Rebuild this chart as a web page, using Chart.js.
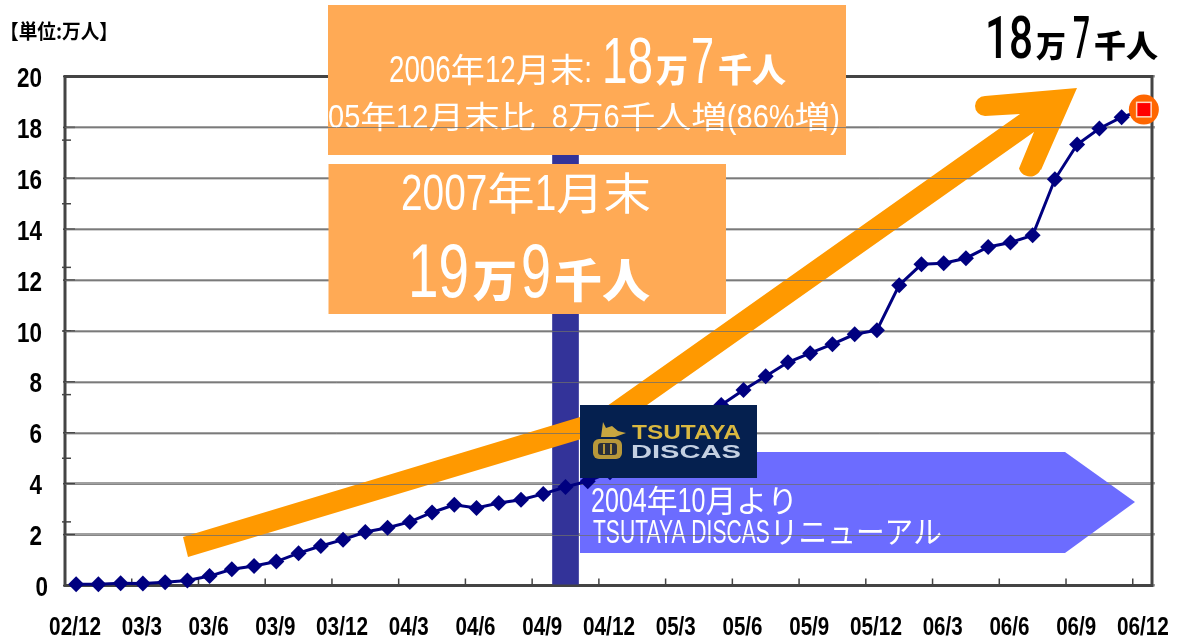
<!DOCTYPE html>
<html><head><meta charset="utf-8">
<style>html,body{margin:0;padding:0;background:#fff}#w{width:1177px;height:638px;position:relative}</style>
<script src="https://cdn.jsdelivr.net/npm/chart.js@4"></script>
</head><body><div id="w"><canvas id="c" width="1177" height="638"></canvas></div>
<script>
const categories=["02/12","03/1","03/2","03/3","03/4","03/5","03/6","03/7","03/8","03/9","03/10","03/11","03/12","04/1","04/2","04/3","04/4","04/5","04/6","04/7","04/8","04/9","04/10","04/11","04/12","05/1","05/2","05/3","05/4","05/5","05/6","05/7","05/8","05/9","05/10","05/11","05/12","06/1","06/2","06/3","06/4","06/5","06/6","06/7","06/8","06/9","06/10","06/11","06/12"];
const shownLabels=["02/12","03/3","03/6","03/9","03/12","04/3","04/6","04/9","04/12","05/3","05/6","05/9","05/12","06/3","06/6","06/9","06/12"];
const members=[0.05,0.05,0.09,0.08,0.13,0.2,0.37,0.64,0.77,0.94,1.27,1.55,1.8,2.1,2.27,2.5,2.87,3.17,3.05,3.24,3.37,3.6,3.87,4.1,4.45,4.85,5.3,5.8,6.45,7.09,7.68,8.22,8.77,9.13,9.48,9.87,10.03,11.8,12.62,12.66,12.86,13.3,13.48,13.76,15.96,17.33,17.96,18.4,18.7];
const bandCategory="04/10";
const bandValue=20;
const bandValues=categories.map(c=>c===bandCategory?bandValue:null);
const yMajor=[0,2,4,6,8,10,12,14,16,18,20];
const yMinor=[2.5,5,7.5,10,12.5,15,17.5];

const LAT='"Liberation Sans"';
const CJK='"Noto Sans CJK JP"';
function fit(ctx,text,font,x0,x1,base,color){
  ctx.save();ctx.font=font;ctx.fillStyle=color;ctx.textAlign='left';ctx.textBaseline='alphabetic';
  const w=ctx.measureText(text).width;
  ctx.translate(x0,base);ctx.scale((x1-x0)/w,1);ctx.fillText(text,0,0);ctx.restore();
}
// mixed line: Latin runs are condensed, CJK runs keep their proportion, all fitted to [x0,x1]
function mixed(ctx,text,latSize,cjkSize,x0,x1,base,color,k){
  ctx.save();ctx.fillStyle=color;ctx.textAlign='left';ctx.textBaseline='alphabetic';
  const runs=text.match(/[\x20-\x7e]+|[^\x20-\x7e]+/g).map(t=>{
    const lat=/^[\x20-\x7e]/.test(t);
    const font=lat?latSize+'px '+LAT:cjkSize+'px '+CJK;
    ctx.font=font;
    return {t,font,sx:lat?k:1,w:ctx.measureText(t).width*(lat?k:1)};
  });
  const total=runs.reduce((s,r)=>s+r.w,0),f=(x1-x0)/total;
  let xx=x0;
  runs.forEach(r=>{
    ctx.save();ctx.font=r.font;ctx.translate(xx,base);ctx.scale(r.sx*f,1);ctx.fillText(r.t,0,0);ctx.restore();
    xx+=r.w*f;
  });
  ctx.restore();
}
function blueArrow(ctx){
  ctx.fillStyle='#6C6CFF';ctx.beginPath();
  ctx.moveTo(580,452);ctx.lineTo(1065,452);ctx.lineTo(1135,502);ctx.lineTo(1065,553);ctx.lineTo(580,553);ctx.closePath();ctx.fill();
  mixed(ctx,'2004年10月より',35,31,591,798,512,'#fff',.72);
  mixed(ctx,'TSUTAYA DISCASリニューアル',33,31,593,942,543,'#fff',.69);
}
function orangeArrow(ctx){
  ctx.fillStyle='#FF9900';ctx.beginPath();
  ctx.moveTo(183,537);ctx.lineTo(600,411);ctx.lineTo(1020,114);ctx.lineTo(985,116);
  ctx.arc(985,106,10,Math.PI/2,Math.PI*1.5);
  ctx.lineTo(1077,88);ctx.lineTo(1041,170);
  ctx.arc(1030,165,11.5,0.4,Math.PI-0.3);
  ctx.lineTo(1034,132);ctx.lineTo(647,405);ctx.lineTo(618,428);ctx.lineTo(188,557);ctx.closePath();ctx.fill();
}
function box1(ctx){
  ctx.fillStyle='#FFAA55';ctx.fillRect(328,5,518,150);
  mixed(ctx,'2006年12月末:',36,33,389,592,82,'#fff',.74);
  fit(ctx,'18','64px '+LAT,602,653,83,'#fff');
  fit(ctx,'万','900 32px '+CJK,656,688,82,'#fff');
  fit(ctx,'7','64px '+LAT,691,714,83,'#fff');
  fit(ctx,'千人','900 33px '+CJK,718,786,82,'#fff');
  mixed(ctx,'05年12月末比  8万6千人増(86%増)',34,31,328,840,128,'#fff',.74);
}
function box2(ctx){
  ctx.fillStyle='#FFAA55';ctx.fillRect(328.5,164,397.5,150);
  mixed(ctx,'2007年1月末',50,44,401,651,210,'#fff',.72);
  fit(ctx,'19','76px '+LAT,408,469,297,'#fff');
  fit(ctx,'万','900 44px '+CJK,473,517,297,'#fff');
  fit(ctx,'9','76px '+LAT,521,551,297,'#fff');
  fit(ctx,'千人','900 46px '+CJK,554,650,297,'#fff');
}
function logo(ctx){
  ctx.fillStyle='#05204F';ctx.fillRect(580,405,177,73);
  ctx.save();ctx.filter='blur(0.7px)';
  fit(ctx,'TSUTAYA','bold 21px '+LAT,632,741,439,'#D9B840');
  fit(ctx,'DISCAS','bold 19px '+LAT,631,741,458,'#C4D0E2');
  ctx.fillStyle='#B8983A';ctx.beginPath();ctx.roundRect(593,439,29,20,6);ctx.fill();
  ctx.fillStyle='#2A2F3A';ctx.beginPath();ctx.roundRect(598,443,19,12,3);ctx.fill();
  ctx.fillStyle='#B8983A';ctx.fillRect(603,444,2,10);ctx.fillRect(610,444,2,10);
  ctx.fillStyle='#C8A640';ctx.beginPath();ctx.moveTo(601,437);ctx.lineTo(603,422);ctx.lineTo(606,428);ctx.lineTo(612,426);ctx.lineTo(618,431);ctx.lineTo(626,433);ctx.lineTo(615,437);ctx.closePath();ctx.fill();
  ctx.restore();
}
const decor={
  id:'decor',
  beforeDatasetsDraw(chart){
    const {ctx,chartArea:a,scales:{x,y}}=chart;
    ctx.save();
    ctx.strokeStyle='#444';ctx.lineWidth=3;
    ctx.strokeRect(a.left,a.top,a.right-a.left-3,a.bottom-a.top);
    ctx.lineWidth=1.5;
    yMinor.forEach(v=>{const p=y.getPixelForValue(v);ctx.beginPath();ctx.moveTo(a.left-3,p);ctx.lineTo(a.left+6,p);ctx.stroke();});
    yMajor.forEach(v=>{const p=y.getPixelForValue(v);ctx.beginPath();ctx.moveTo(a.left-2,p);ctx.lineTo(a.left+10,p);ctx.stroke();});
    const w=x.getPixelForValue(1)-x.getPixelForValue(0);
    shownLabels.forEach(l=>{const p=x.getPixelForValue(categories.indexOf(l))-w/2;ctx.beginPath();ctx.moveTo(p,a.bottom);ctx.lineTo(p,a.bottom-7);ctx.stroke();});
    // axis labels, condensed like the source
    shownLabels.forEach(l=>{
      const c=x.getPixelForValue(categories.indexOf(l));
      const hw=l.length===5?26:20;
      fit(ctx,l,'bold 25px '+LAT,c-hw-1,c+hw-1,635,'#000');
    });
    yMajor.forEach(v=>{
      const p=y.getPixelForValue(v)+10.5,s=String(v);
      const r=v===0?48:42,wd=s.length*12.5;
      fit(ctx,s,'bold 27px '+LAT,r-wd,r,p,'#000');
    });
    fit(ctx,'【単位:万人】','bold 20px '+CJK,0,118,39,'#000');
    fit(ctx,'18','500 59px Roboto',985,1033,58,'#000');
    fit(ctx,'万','900 30px '+CJK,1036,1066,57,'#000');
    fit(ctx,'7','500 59px Roboto',1073,1090,58,'#000');
    fit(ctx,'千人','900 31px '+CJK,1094,1158,57,'#000');
    ctx.restore();
  },
  afterDatasetDraw(chart,args){
    if(args.index!==1) return;
    const {ctx,chartArea:a,scales:{y}}=chart;
    ctx.save();
    blueArrow(ctx);orangeArrow(ctx);box1(ctx);
    ctx.strokeStyle='rgba(110,110,110,0.75)';ctx.lineWidth=1;
    yMajor.filter(v=>v>0&&v<20).forEach(v=>{const p=Math.round(y.getPixelForValue(v))+.5;ctx.beginPath();ctx.moveTo(a.left,p);ctx.lineTo(a.right-4,p);ctx.stroke();});
    ctx.restore();
  },
  afterDatasetsDraw(chart){
    const {ctx,scales:{x,y}}=chart;
    ctx.save();
    logo(ctx);box2(ctx);
    const i=members.length-1,px=x.getPixelForValue(i),py=y.getPixelForValue(members[i]);
    ctx.fillStyle='#FF6600';ctx.beginPath();ctx.arc(px,py,15,0,Math.PI*2);ctx.fill();
    ctx.fillStyle='#FFD9C0';ctx.fillRect(px-8,py-8,16,16);
    ctx.fillStyle='#FF0000';ctx.fillRect(px-6.5,py-6.5,13,13);
    ctx.restore();
  }
};
new Chart(document.getElementById('c'),{
  data:{labels:categories,datasets:[
    {type:'line',label:'会員数',data:members,borderColor:'#000080',borderWidth:3,backgroundColor:'#000080',pointStyle:'rectRot',pointRadius:8,pointBackgroundColor:'#000080',pointBorderColor:'#000080',pointBorderWidth:0,tension:0,order:1,clip:false},
    {type:'bar',label:'リニューアル',data:bandValues,backgroundColor:'#333399',barThickness:26,order:2}
  ]},
  options:{
    responsive:false,animation:false,
    layout:{padding:{top:76.5,right:22,left:0,bottom:0}},
    plugins:{legend:{display:false},tooltip:{enabled:false},title:{display:false}},
    scales:{
      x:{type:'category',offset:true,
        grid:{display:false,drawTicks:false},border:{display:false},
        afterFit(s){s.height=638-585.5;},
        ticks:{display:false}
      },
      y:{min:0,max:20,
        afterFit(s){s.width=65;},
        grid:{drawTicks:false,color:'#A0A0A0',lineWidth:2.5},border:{display:false},
        ticks:{display:false,stepSize:2}
      }
    }
  },
  plugins:[decor]
});
</script></body></html>
